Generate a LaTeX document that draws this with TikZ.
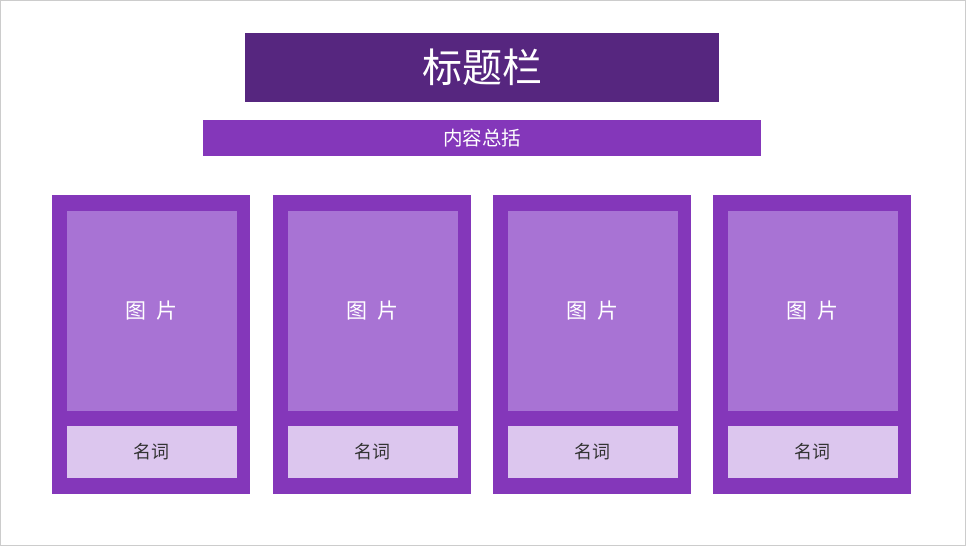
\documentclass[tikz,border=0pt]{standalone}
\usepackage{fontspec}
\newfontfamily\cjk{Noto Sans CJK SC}
\usetikzlibrary{positioning}

\definecolor{titlepurple}{HTML}{56267F}
\definecolor{barpurple}{HTML}{8437BA}
\definecolor{picpurple}{HTML}{A873D4}
\definecolor{namelilac}{HTML}{DCC6EE}

\tikzset{
  titlebox/.style={fill=titlepurple, text=white, minimum width=474pt, minimum height=69pt, font=\cjk\fontsize{40}{42}\selectfont},
  summarybar/.style={fill=barpurple, text=white, minimum width=558pt, minimum height=36pt, font=\cjk\fontsize{19.5}{21}\selectfont},
  cardframe/.style={fill=barpurple, minimum width=198pt, minimum height=299pt},
  picbox/.style={fill=picpurple, text=white, minimum width=170pt, minimum height=200pt, font=\cjk\fontsize{21}{23}\selectfont},
  namebox/.style={fill=namelilac, text=black!80, minimum width=170pt, minimum height=52pt, font=\cjk\fontsize{18}{20}\selectfont},
}

\begin{document}
\begin{tikzpicture}[x=1pt, y=-1pt, every node/.style={inner sep=0pt, outer sep=0pt}]
  \useasboundingbox (0,0) rectangle (966,549);
  \draw[black!20] (0.5,0.5) rectangle (965.5,545);

  \node[titlebox] (title) at (482,67.5) {标题栏};
  \node[summarybar] (summary) at (482,138) {内容总括};

  % four cards
  \foreach \i/\x in {1/151, 2/372, 3/592, 4/812} {
    \node[cardframe] (card\i) at (\x,344.5) {};
    \node[picbox] (pic\i) at (\x+0.5,311) {图\hspace{0.45em}片};
    \node[namebox] (name\i) at (\x+0.5,452) {名词};
  }
\end{tikzpicture}
\end{document}
